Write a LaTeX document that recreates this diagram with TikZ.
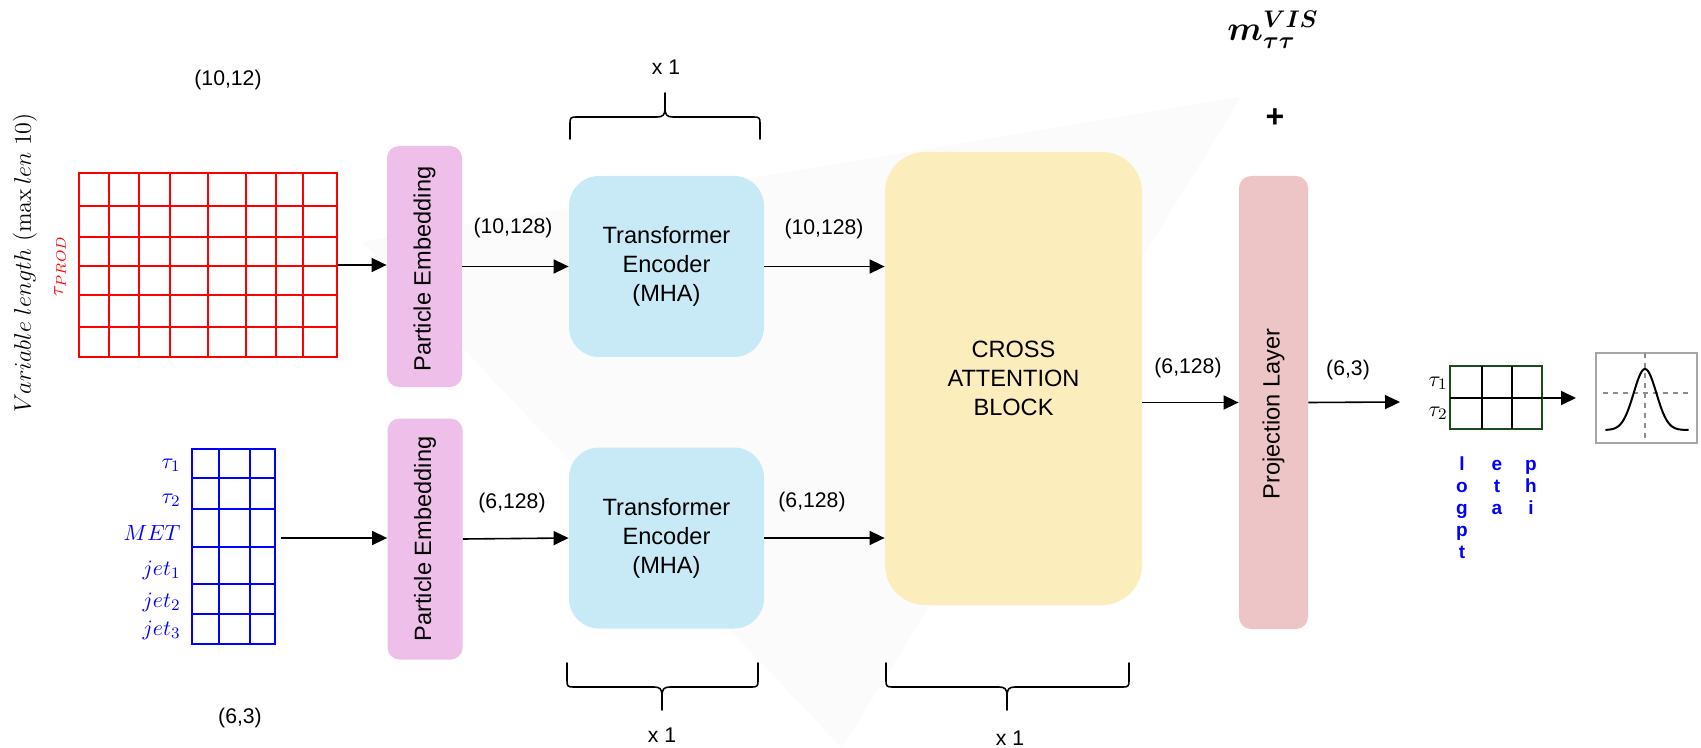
\documentclass[tikz,border=0pt]{standalone}
\usepackage[no-math]{fontspec}
\setmainfont{Liberation Sans}
\usepackage{amsmath,bm}
\usetikzlibrary{arrows.meta}

\definecolor{pefill}{HTML}{EDBFE9}
\definecolor{tefill}{HTML}{C8EAF6}
\definecolor{crfill}{HTML}{FCEDBD}
\definecolor{prfill}{HTML}{EEC5C7}
\definecolor{gridgreen}{HTML}{1B4A1B}

\tikzset{
  boxfont/.style={font=\fontsize{11.8}{14.5}\selectfont},
  dimfont/.style={font=\fontsize{10.6}{13}\selectfont},
  pebox/.style={fill=pefill, rounded corners=6pt, inner sep=0,
                minimum width=37.5pt, minimum height=120.5pt},
  tebox/.style={fill=tefill, rounded corners=15pt, inner sep=0,
                minimum width=97.5pt, minimum height=90.5pt, boxfont, align=center},
  crbox/.style={fill=crfill, rounded corners=20pt, inner sep=0,
                minimum width=128.5pt, minimum height=226.5pt, boxfont, align=center},
  prbox/.style={fill=prfill, rounded corners=6pt, inner sep=0,
                minimum width=34.5pt, minimum height=226.5pt},
  vtext/.style={rotate=90, boxfont, inner sep=0},
  arr/.style={-{Triangle[length=7.5pt,width=7pt]}, line width=0.8pt},
  bracepath/.style={line width=0.8pt, line cap=round},
  redline/.style={draw=red, line width=1pt},
  blueline/.style={draw=blue, line width=1pt},
  bluelab/.style={text=blue, anchor=east, inner sep=0, font=\fontsize{11}{13}\selectfont},
  featlab/.style={text=blue, anchor=base, inner sep=0,
                  font=\bfseries\fontsize{9.5}{11}\selectfont},
}

\begin{document}
\begin{tikzpicture}[x=0.5pt, y=-0.5pt]
\useasboundingbox (0,0) rectangle (1701,748);
\fill[white] (0,0) rectangle (1701,748);
% faint backdrop wedge
\fill[black!1.5] (362,242) -- (1241,97) -- (842,748) -- cycle;

% ---- side label ----
\node[rotate=90, inner sep=0, font=\fontsize{12}{14}\selectfont] (varlen) at (25,263)
  {$Variable\ length\ (\max len\ 10)$};

% ---- tau_PROD input grid (red) ----
\node[text=red, rotate=90, inner sep=0, font=\fontsize{10}{12}\selectfont] (tprod) at (60,266) {$\tau_{PROD}$};
\node[redline, inner sep=0, minimum width=129pt, minimum height=92pt] (red) at (208,265) {};
\foreach \x in {109,139,170,208,246,276,303} \draw[redline] (\x,173) -- (\x,357);
\foreach \y in {206,237,266,295,327} \draw[redline] (79,\y) -- (337,\y);
\node[dimfont] (redshape) at (228,80) {(10,12)};

% ---- event-level input grid (blue) ----
\node[blueline, inner sep=0, minimum width=41.5pt, minimum height=97.5pt] (blue) at (233.5,546.5) {};
\foreach \x in {219,250} \draw[blueline] (\x,449) -- (\x,644);
\foreach \y in {478,509,547,584,614} \draw[blueline] (192,\y) -- (275,\y);
\node[bluelab] (lt1) at (181,465) {$\tau_1$};
\node[bluelab] (lt2) at (181,500) {$\tau_2$};
\node[bluelab] (lmet) at (181,533) {$MET$};
\node[bluelab] (lj1) at (181,570) {$jet_1$};
\node[bluelab] (lj2) at (181,602) {$jet_2$};
\node[bluelab] (lj3) at (181,630) {$jet_3$};
\node[dimfont] (blueshape) at (240,718) {(6,3)};
\coordinate (bstart) at (281,538);

% ---- embeddings ----
\node[pebox] (pe1) at (424.5,266.5) {};
\node[vtext] (pe1t) at (424.5,269) {Particle Embedding};
\node[pebox] (pe2) at (425,539) {};
\node[vtext] (pe2t) at (425,539) {Particle Embedding};

% ---- transformer encoders ----
\node[tebox] (te1) at (666.5,266.5) {Transformer\\Encoder\\(MHA)};
\node[tebox] (te2) at (666.5,538) {Transformer\\Encoder\\(MHA)};

% ---- cross attention ----
\node[crbox] (cross) at (1013.5,378.5) {CROSS\\ATTENTION\\BLOCK};

% ---- projection ----
\node[prbox] (proj) at (1273.5,402.5) {};
\node[vtext] (projt) at (1273.5,414) {Projection Layer};
\node[inner sep=0, font=\fontsize{17}{20}\selectfont] (mvis) at (1273,30) {$\bm{m_{\tau\tau}^{VIS}}$};
\node[inner sep=0, font=\bfseries\fontsize{16}{18}\selectfont] (plus) at (1275,118) {+};

% ---- output grid (green) ----
\node[draw=gridgreen, line width=1.2pt, inner sep=0, minimum width=46pt, minimum height=31.5pt] (green) at (1496,397.5) {};
\draw[line width=1pt] (1482,366) -- (1482,429) (1512,366) -- (1512,429) (1450,398) -- (1542,398);
\node[inner sep=0, anchor=east, font=\fontsize{11}{13}\selectfont] (gt1) at (1448,383) {$\tau_1$};
\node[inner sep=0, anchor=east, font=\fontsize{11}{13}\selectfont] (gt2) at (1448,413) {$\tau_2$};
\foreach \c [count=\i] in {l,o,g,p,t} \node[featlab] (flogpt\i) at (1462,448+22*\i) {\c};
\foreach \c [count=\i] in {e,t,a} \node[featlab] (feta\i) at (1497,448+22*\i) {\c};
\foreach \c [count=\i] in {p,h,i} \node[featlab] (fphi\i) at (1531,448+22*\i) {\c};
\coordinate (gin) at (1400,402);
\coordinate (gout) at (1576,398);

% ---- output distribution sketch ----
\node[draw=black!35, line width=1pt, inner sep=0, minimum width=50.5pt, minimum height=45pt] (plot) at (1646.5,398) {};
\draw[black!45, line width=0.9pt, dash pattern=on 2.5pt off 2.5pt] (1645,353) -- (1645,443);
\draw[black!45, line width=0.9pt, dash pattern=on 2.5pt off 2.5pt] (1603,393) -- (1688,393);
\draw[line width=1pt, line cap=round] plot[domain=1606:1688, samples=70, smooth]
  (\x, {430-61*exp(-((\x-1645)/16)^2)});

% ---- connectors ----
\draw[arr] (red.east) -- (red.east -| pe1.west);
\draw[arr] (bstart) -- (bstart -| pe2.west);
\draw[arr] (pe1.east) -- (te1.west);
\draw[arr] (pe2.east) -- (te2.west);
\draw[arr] (te1.east) -- (te1.east -| cross.west);
\draw[arr] (te2.east) -- (te2.east -| cross.west);
\draw[arr] (cross.east |- proj.west) -- (proj.west);
\draw[arr] (proj.east) -- (gin);
\draw[arr] (green.east |- gout) -- (gout);

% ---- shape labels ----
\node[dimfont] (d1) at (513,228) {(10,128)};
\node[dimfont] (d2) at (824,229) {(10,128)};
\node[dimfont] (d3) at (512,503) {(6,128)};
\node[dimfont] (d4) at (812,502) {(6,128)};
\node[dimfont] (d5) at (1188,368) {(6,128)};
\node[dimfont] (d6) at (1348,370) {(6,3)};

% ---- repetition braces ----
\draw[bracepath] (570,139) -- (570,123) .. controls (570,118) and (571,117) .. (576,117)
  -- (657,117) .. controls (663,117) and (665,115) .. (665,108) -- (665,93);
\draw[bracepath] (760,139) -- (760,123) .. controls (760,118) and (759,117) .. (754,117)
  -- (673,117) .. controls (667,117) and (665,115) .. (665,108);
\node[dimfont] (rep1) at (666,67) {x 1};

\draw[bracepath] (567,663) -- (567,681) .. controls (567,686) and (568,687) .. (573,687)
  -- (654,687) .. controls (660,687) and (662,689) .. (662,696) -- (662,710);
\draw[bracepath] (758,663) -- (758,681) .. controls (758,686) and (757,687) .. (752,687)
  -- (670,687) .. controls (664,687) and (662,689) .. (662,696);
\node[dimfont] (rep2) at (662,735) {x 1};

\draw[bracepath] (886,663) -- (886,681) .. controls (886,686) and (887,687) .. (892,687)
  -- (999,687) .. controls (1005,687) and (1007,689) .. (1007,696) -- (1007,710);
\draw[bracepath] (1129,663) -- (1129,681) .. controls (1129,686) and (1128,687) .. (1123,687)
  -- (1015,687) .. controls (1009,687) and (1007,689) .. (1007,696);
\node[dimfont] (rep3) at (1010,738) {x 1};
\end{tikzpicture}
\end{document}
